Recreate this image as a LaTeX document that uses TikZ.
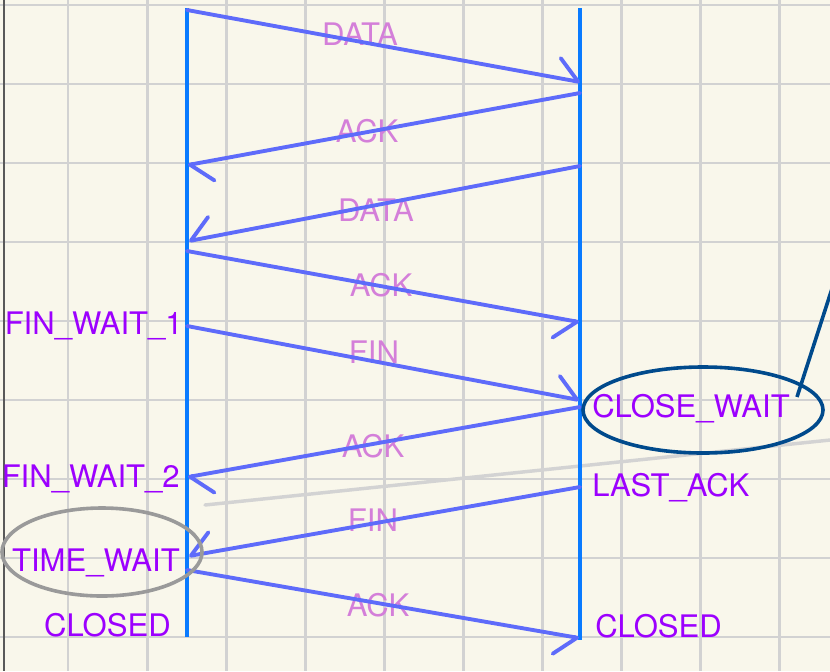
\documentclass[tikz,border=0pt]{standalone}
\usepackage{fontspec}
\setmainfont{TeX Gyre Heros}
\usetikzlibrary{arrows.meta}

\definecolor{paper}{HTML}{F9F7EB}
\definecolor{gridgray}{HTML}{D2D2D2}
\definecolor{hostblue}{HTML}{0A7BFF}
\definecolor{msgblue}{HTML}{5E6BFA}
\definecolor{msgpink}{HTML}{D47FD9}
\definecolor{statepurple}{HTML}{9C00FF}
\definecolor{ringblue}{HTML}{004A8C}
\definecolor{ringgray}{HTML}{9A9A9A}
\definecolor{faintgray}{HTML}{D3D3D3}

\begin{document}
\begin{tikzpicture}[x=0.75pt, y=-0.75pt]
  \pgfmathsetmacro{\pitch}{79.1} % grid spacing
  \pgfmathsetmacro{\xL}{187}     % left host
  \pgfmathsetmacro{\xR}{580}     % right host

  \tikzset{
    grid line/.style={gridgray, line width=2.2pt},
    host line/.style={hostblue, line width=3.3pt},
    msg/.style={msgblue, line width=2.9pt, line cap=round,
      -{Straight Barb[harpoon, length=16pt, width=30pt, round]}},
    msg swap/.style={msgblue, line width=2.9pt, line cap=round,
      -{Straight Barb[harpoon, swap, length=16pt, width=30pt, round]}},
    msg label/.style={text=msgpink, inner sep=0pt, anchor=base,
      font=\fontsize{23.3}{27}\selectfont},
    state label/.style={text=statepurple, inner sep=0pt,
      font=\fontsize{23.3}{27}\selectfont},
    ring/.style={line width=2.7pt},
  }

  \clip (0,0) rectangle (830,671);
  \fill[paper] (0,0) rectangle (830,671);

  % grid
  \foreach \i in {0,...,9}
    \draw[grid line] ({68+\i*\pitch},0) -- ({68+\i*\pitch},671);
  \foreach \j in {0,...,8}
    \draw[grid line] (0,{5+\j*79}) -- (830,{5+\j*79});
  \draw[black!65, line width=1.1pt] (4,0) -- (4,671);

  % faint guide line
  \coordinate (g1) at (205,505);
  \coordinate (g2) at (840,439);
  \draw[faintgray, line width=2.6pt, line cap=round] (g1) -- (g2);

  % hosts
  \coordinate (Ltop) at (\xL,8);
  \coordinate (Lbot) at (\xL,637);
  \coordinate (Rtop) at (\xR,8);
  \coordinate (Rbot) at (\xR,640);
  \draw[host line] (Ltop) -- (Lbot);
  \draw[host line] (Rtop) -- (Rbot);

  % message labels
  \node[msg label] (lData1) at (360,45)  {DATA};
  \node[msg label] (lAck1)  at (367,142) {ACK};
  \node[msg label] (lData2) at (376,221) {DATA};
  \node[msg label] (lAck2)  at (381,296) {ACK};
  \node[msg label] (lFin1)  at (374,363) {FIN};
  \node[msg label] (lAck3)  at (373,457) {ACK};
  \node[msg label] (lFin2)  at (373,531) {FIN};
  \node[msg label] (lAck4)  at (378,616) {ACK};

  % end points on the hosts
  \coordinate (m1s) at (\xL,10);  \coordinate (m1e) at (\xR,82);
  \coordinate (m2s) at (\xR,93);  \coordinate (m2e) at (188,165);
  \coordinate (m3s) at (\xR,166); \coordinate (m3e) at (189,241);
  \coordinate (m4s) at (\xL,251); \coordinate (m4e) at (579,322);
  \coordinate (m5s) at (\xL,326); \coordinate (m5e) at (579,400);
  \coordinate (m6s) at (\xR,407); \coordinate (m6e) at (188,477);
  \coordinate (m7s) at (\xR,487); \coordinate (m7e) at (189,556);
  \coordinate (m8s) at (\xL,570); \coordinate (m8e) at (579,638);

  % messages
  \draw[msg]      (m1s) -- (m1e);
  \draw[msg]      (m2s) -- (m2e);
  \draw[msg swap] (m3s) -- (m3e);
  \draw[msg swap] (m4s) -- (m4e);
  \draw[msg]      (m5s) -- (m5e);
  \draw[msg]      (m6s) -- (m6e);
  \draw[msg swap] (m7s) -- (m7e);
  \draw[msg swap] (m8s) -- (m8e);

  % states
  \node[state label, anchor=base east] (finwait1)  at (183,334) {FIN\_WAIT\_1};
  \node[state label, anchor=base east] (finwait2)  at (180,487) {FIN\_WAIT\_2};
  \node[state label, anchor=base east] (timewait)  at (180,571) {TIME\_WAIT};
  \node[state label, anchor=base east] (closedL)   at (171,636) {CLOSED};
  \node[state label, anchor=base west] (closewait) at (592,417) {CLOSE\_WAIT};
  \node[state label, anchor=base west] (lastack)   at (592,496) {LAST\_ACK};
  \node[state label, anchor=base west] (closedR)   at (595,637) {CLOSED};

  % rings
  \draw[ring, ringblue] (703,410) ellipse [x radius=120, y radius=43];
  \draw[ring, ringgray] (102,552) ellipse [x radius=100, y radius=44];
  \coordinate (cwTail) at (797,397);
  \coordinate (cwOut)  at (838,270);
  \draw[ring, ringblue] (cwTail) -- (cwOut);
\end{tikzpicture}
\end{document}
